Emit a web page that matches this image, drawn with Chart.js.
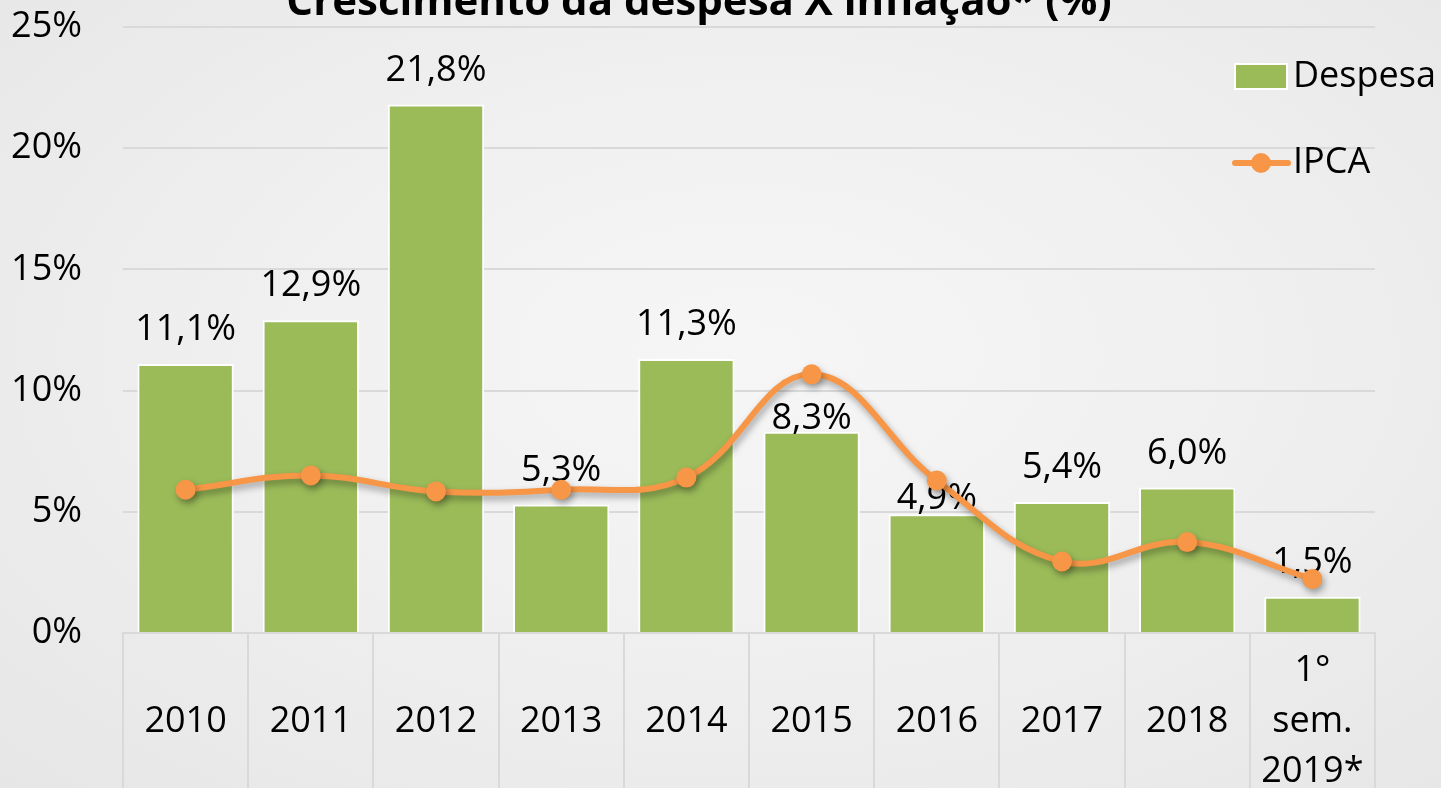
<!DOCTYPE html>
<html lang="pt-BR">
<head>
<meta charset="utf-8">
<title>Crescimento da despesa X inflação</title>
<script src="https://cdn.jsdelivr.net/npm/chart.js@4.4.1/dist/chart.umd.min.js"></script>
<style>
  html, body {
    margin: 0;
    padding: 0;
    width: 1441px;
    height: 788px;
    overflow: hidden;
    background: radial-gradient(ellipse at 52% 45%, #f6f6f6 0%, #f0f0f0 45%, #e6e6e6 100%);
  }
  #chart { display: block; }
</style>
</head>
<body>
<canvas id="chart" width="1441" height="788"></canvas>
<script>
// Dados (em %)
const categories = ["2010", "2011", "2012", "2013", "2014", "2015", "2016", "2017", "2018", ["1°", "sem.", "2019*"]];
const despesa = [11.1, 12.9, 21.8, 5.3, 11.3, 8.3, 4.9, 5.4, 6.0, 1.5];
const ipca = [5.91, 6.50, 5.84, 5.91, 6.41, 10.67, 6.29, 2.95, 3.75, 2.23];
const yTicks = [0, 5, 10, 15, 20, 25];

const titleText = "Crescimento da despesa X inflação* (%)";
const FONT = "'Open Sans', 'Noto Sans', sans-serif";
const GREEN = "#9bbb59";
const ORANGE = "#f79646";
const GRID = "#d9d9d9";

// labels that were moved by hand in the original (pixels down)
const labelNudge = { 5: 21, 6: 19 };

const fmt = (v) => v.toFixed(1).replace(".", ",") + "%";

// Data labels above the bars, drawn before the line so the line sits on top
const barLabels = {
  id: "barLabels",
  afterDatasetDraw(chart, args) {
    if (args.index !== 0) return;
    const ctx = chart.ctx;
    ctx.save();
    ctx.font = "36px " + FONT;
    ctx.fillStyle = "#000";
    ctx.textAlign = "center";
    ctx.textBaseline = "alphabetic";
    args.meta.data.forEach((bar, i) => {
      const dy = labelNudge[i] || 0;
      ctx.fillText(fmt(despesa[i]), bar.x, bar.y - 24 + dy);
    });
    ctx.restore();
  }
};

// Soft drop shadow under the IPCA line
const lineShadow = {
  id: "lineShadow",
  beforeDatasetDraw(chart, args) {
    if (args.index !== 1) return;
    const ctx = chart.ctx;
    ctx.save();
    ctx.shadowColor = "rgba(0, 0, 0, 0.35)";
    ctx.shadowBlur = 7;
    ctx.shadowOffsetX = 2;
    ctx.shadowOffsetY = 4;
  },
  afterDatasetDraw(chart, args) {
    if (args.index !== 1) return;
    chart.ctx.restore();
  }
};

// Title (cut off by the top edge, as in the picture) and the legend
const decorations = {
  id: "decorations",
  afterDraw(chart) {
    const ctx = chart.ctx;
    ctx.save();
    ctx.font = "bold 42px " + FONT;
    ctx.fillStyle = "#000";
    ctx.textAlign = "center";
    ctx.textBaseline = "alphabetic";
    ctx.fillText(titleText, 699, 15);

    // legend: Despesa
    ctx.fillStyle = GREEN;
    ctx.fillRect(1235, 64, 52, 25);
    ctx.strokeStyle = "#fff";
    ctx.lineWidth = 2;
    ctx.strokeRect(1235, 64, 52, 25);
    ctx.font = "36px " + FONT;
    ctx.fillStyle = "#000";
    ctx.textAlign = "left";
    ctx.textBaseline = "middle";
    ctx.fillText(chart.data.datasets[0].label, 1293, 77);

    // legend: IPCA
    ctx.strokeStyle = ORANGE;
    ctx.lineWidth = 6;
    ctx.lineCap = "round";
    ctx.beginPath();
    ctx.moveTo(1235, 163);
    ctx.lineTo(1288, 163);
    ctx.stroke();
    ctx.fillStyle = ORANGE;
    ctx.beginPath();
    ctx.arc(1261, 163, 10, 0, Math.PI * 2);
    ctx.fill();
    ctx.fillStyle = "#000";
    ctx.fillText(chart.data.datasets[1].label, 1293, 163);
    ctx.restore();
  }
};

new Chart(document.getElementById("chart"), {
  type: "bar",
  data: {
    labels: categories,
    datasets: [
      {
        type: "bar",
        label: "Despesa",
        data: despesa,
        backgroundColor: GREEN,
        borderColor: "#ffffff",
        borderWidth: 2,
        barPercentage: 0.77,
        categoryPercentage: 1,
        order: 1
      },
      {
        type: "line",
        label: "IPCA",
        data: ipca,
        borderColor: ORANGE,
        backgroundColor: ORANGE,
        borderWidth: 6,
        pointRadius: 10,
        pointBorderWidth: 0,
        pointBackgroundColor: ORANGE,
        tension: 0.4,
        order: 0
      }
    ]
  },
  options: {
    responsive: false,
    animation: false,
    devicePixelRatio: 1,
    layout: { padding: { top: 27, right: 66, left: 0, bottom: 0 } },
    plugins: {
      legend: { display: false },
      tooltip: { enabled: false }
    },
    scales: {
      x: {
        offset: true,
        grid: {
          offset: true,
          drawOnChartArea: false,
          drawTicks: true,
          tickLength: 160,
          color: GRID,
          lineWidth: 2
        },
        border: { color: GRID, width: 2 },
        ticks: {
          color: "#000",
          font: { family: FONT, size: 36, lineHeight: 1.4 },
          padding: -122,
          crossAlign: "center",
          maxRotation: 0,
          autoSkip: false
        },
        afterFit(scale) {
          scale.height = 155;
          scale.paddingLeft = 0;
          scale.paddingRight = 0;
        }
      },
      y: {
        min: yTicks[0],
        max: yTicks[yTicks.length - 1],
        afterBuildTicks(scale) { scale.ticks = yTicks.map((v) => ({ value: v })); },
        grid: { color: GRID, lineWidth: 2, drawTicks: false },
        border: { display: false },
        ticks: {
          color: "#000",
          font: { family: FONT, size: 36 },
          padding: 41,
          callback: (v) => v + "%"
        },
        afterFit(scale) {
          scale.width = 123;
          scale.paddingTop = 0;
          scale.paddingBottom = 0;
        }
      }
    }
  },
  plugins: [barLabels, lineShadow, decorations]
});
</script>
</body>
</html>
